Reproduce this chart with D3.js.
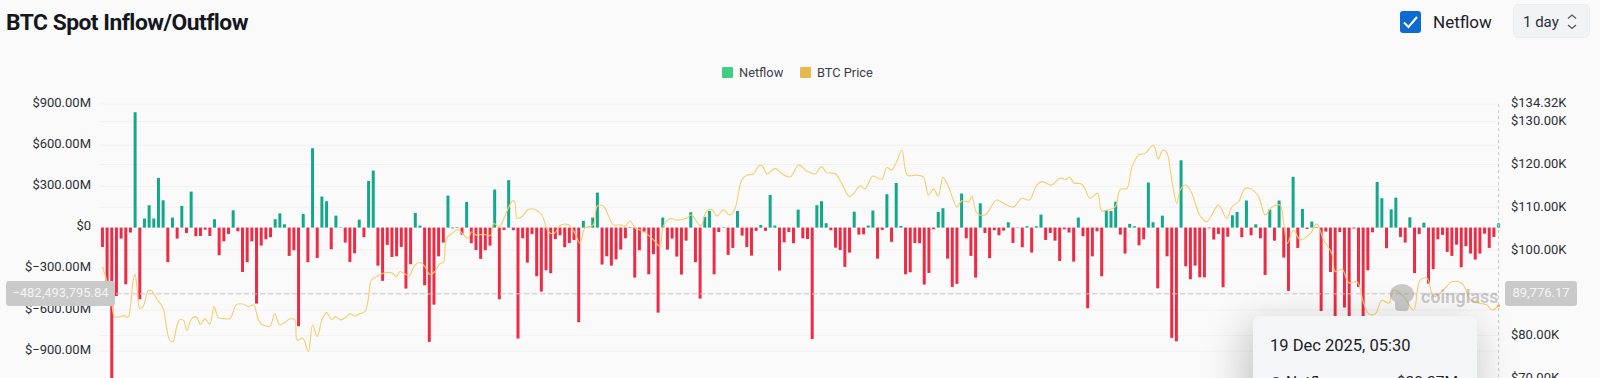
<!DOCTYPE html>
<html>
<head>
<meta charset="utf-8">
<script src="https://cdn.jsdelivr.net/npm/d3@7"></script>
<style>
  html, body { margin: 0; padding: 0; background: #fafafa; overflow: hidden; }
  #chart { width: 1600px; height: 378px; }
  text { font-family: Roboto, sans-serif; }
</style>
</head>
<body>
<div id="chart"></div>
<script>
// netflow per day, $M
const netflow = [
  -141,-396,-1180,-498,-80,-413,-36,840,-522,66,163,66,362,199,-252,73,-80,158,-39,262,
  -63,-61,-15,-61,61,-201,-100,-46,126,-27,-323,-252,-100,-553,-131,-85,-70,61,104,24,
  -206,-165,-718,100,-252,578,-221,226,192,-158,87,3,-109,-250,-187,58,-70,340,415,-277,
  -388,-126,-214,-209,-141,-444,-267,107,15,-420,-832,-561,-209,-109,233,-5,4,-51,187,-114,
  -163,-228,-165,-131,277,-522,-17,345,-19,-808,-78,-255,-46,-354,-466,-311,-332,-83,-56,-143,
  -112,-90,-689,49,2,73,255,-269,-209,-277,-231,-160,-78,-3,-364,-165,-30,-340,-194,-619,
  73,-160,-80,-211,-342,-95,112,-252,-517,78,121,-340,-32,3,-199,-148,121,-58,-141,-204,
  -24,19,-24,238,15,-313,-107,-32,-114,131,-78,-83,-811,163,192,32,-19,-146,-163,-286,
  -182,116,-51,-49,15,124,-226,-17,243,-104,325,12,-340,-325,-112,-114,-415,-330,-12,114,
  141,-226,-432,-410,248,-78,-206,-364,177,-39,-223,-19,-56,-22,39,-112,-2,-143,10,-182,
  10,95,-90,-39,-95,-243,-12,-36,-248,73,-63,-587,-209,-27,-354,129,121,189,-51,-189,
  27,10,-129,-85,328,39,-442,87,-209,-803,-828,490,-282,-376,-277,-362,-362,-5,-87,-46,
  -434,-66,90,114,-70,197,-56,24,-78,-345,131,-95,197,-218,-461,369,-148,136,-10,44,
  -3,-607,-29,-323,-800,-32,-582,-800,-7,-432,-750,-311,-34,332,214,-150,133,218,-68,-109,
  75,-332,-46,36,-408,-303,-85,-53,-177,-206,-124,-289,-135,-189,-233,-189,-44,-148,-68,24
];

// BTC price in $K, sampled along the line; priceAt is the day position of each reading
const priceAt = [
  0,1,2,2.6,3.6,4.6,5.5,6,6.6,7,7.4,8,8.7,9.8,10.5,11.6,13,13.7,14.4,15.1,15.9,16.6,17.4,18.1,19.1,20.1,21,21.9,23,23.9,24.8,26,27.3,28.7,30.1,31.2,32.4,33.4,34.4,35.9,36.9,37.9,39.1,40.1,41.2,41.7,42.9,44.1,45,46,47,48,49.1,50,51,52.3,53,54.1,55.1,56.2,56.9,57.6,58.7,60.1,61.9,63,
  63.7,64.8,65.7,66.9,68,69.1,70.1,71.2,72.3,73,73.7,75.1,76.2,77.1,78.3,79.1,80.1,81.6,83.1,83.8,85,86.6,87.8,88.3,88.8,89.8,91.2,92.6,94.1,95.5,96.6,98.3,99.8,101.2,102.3,103.3,105.1,106,107.3,108.3,109.4,110.8,111.9,113,114.1,115.1,116.6,118,119.4,120.1,121.6,123,124.8,126.2,127.3,128.2,129.3,130.5,131.6,133,134.4,135.5,136.9,138,139.4,140.7,141.4,142.3,144.1,145.5,147.3,149.1,
  150.8,152.6,154,155.1,156.9,158.3,160,160.8,162.3,163.3,165,166.9,168,169,170.1,171.2,172.4,174.4,175.8,176.9,178,179,180,181.2,183,184,185.5,186.2,187.3,189,191.5,193,195.1,196.9,198.5,200.1,201.2,203.3,205,206.2,207.1,208.1,209.8,211.5,213.1,214,215.5,216.9,218,219.4,220.5,221.9,223.3,225.1,226.1,227.1,228,229,230.1,230.8,231.9,233,235,
  236.5,239,240.8,241.9,243.3,244.7,245.8,247.6,249,250.5,252.2,253,253.8,255.1,256.5,258.7,260.1,261.5,263.3,264,265.5,266.9,268.7,270.1,271.2,272.6,274,275.5,276.5,278.7,280.8,282.2,283.7,285.1,287.2,289,291.2,293,294.8,296.5,297.6,299
];
const priceK = [
  96.1,92.6,87.6,84.4,84.4,84.7,84.3,86.8,93,94.3,91.4,86.4,86.8,90.5,90.5,88.7,86.4,82.1,79,78.6,82.1,83.8,83.5,81.2,84,84.4,82.6,84,82.7,86.8,84.3,84,84,87.2,87.4,86.8,87.2,83.7,82.5,82.3,85.2,82.6,83.1,83.9,83.7,79,79.4,76.3,82.5,79.8,83.7,85.4,83.8,84.4,83.7,84.4,85.1,84.6,85.1,85.6,88.3,93,93.8,94.6,94.7,93.8,
  95,94.4,94,96.5,97.1,96.1,94.3,95,96.9,97.1,102.7,104.1,104.8,103.9,102.7,104.3,103.5,103.7,103.4,106.2,105.5,109,111.5,111.3,107.4,107.8,109.5,109.5,108.2,104.3,103.8,105.9,105.9,103.9,101.6,105.1,105.9,110.3,110.3,108.2,105.9,105.9,105.6,106.8,105.1,104.7,103.8,102.4,100.9,105.5,107.4,107,107.3,108.2,106.6,105.6,109,109.5,108,109.4,108.2,109.8,116.4,117.5,117.8,119.8,119.6,117.8,119.1,117.9,117.1,119.9,
  118.5,117.8,119.5,118.1,117.9,115.6,112.5,113.1,115,114.3,117.3,116.5,119.3,118.7,120.7,123.4,117.5,117.5,117.1,112.9,114.3,112.6,117,114.8,110.1,111.5,111.3,112.5,108.6,108.2,111.7,110.9,110.1,112.1,111.7,115.2,116,115.2,116.8,116.5,117,115.7,115.4,112.1,113.3,109.2,109.4,110.1,114.2,114.4,119.5,122.2,122.6,124.5,121.3,123.4,122.6,116.4,110.9,114,115.2,114,108.2,
  106.6,110.5,107.4,110.1,111.3,114.4,114.4,112.5,108.2,110.1,110.5,106.2,101.6,104.7,102.4,103.9,106.1,102.4,99.2,95,95.5,92.4,92.6,87.6,85.1,85.1,88.3,87.6,90.7,89.1,86,93,93.4,89.1,90.7,92.6,92.2,88.3,87.6,87.2,86,87
];

const leftTicks = [900, 600, 300, 0, -300, -600, -900];
const rightTicks = [134.32, 130, 120, 110, 100, 90, 80, 70];
const rightLabelled = [134.32, 130, 120, 110, 100, 80, 70];
const hoverFlow = -482493795.84;
const hoverPrice = 89776.17;
const legendItems = ['Netflow', 'BTC Price'];

const width = 1600;
const height = 378;
const plot = { left: 100, right: 1501 };

const svg = d3.select('#chart').append('svg')
  .attr('width', width)
  .attr('height', height)
  .attr('viewBox', [0, 0, width, height]);

const x = d3.scaleBand()
  .domain(d3.range(netflow.length))
  .range([plot.left, plot.right])
  .paddingInner(0.36)
  .paddingOuter(0.2);

const xLine = d3.scaleLinear()
  .domain([0, netflow.length - 1])
  .range([x(0) + x.bandwidth() / 2, x(netflow.length - 1) + x.bandwidth() / 2]);

// both axes keep going below the crop, the window just cuts them off
const yFlow = d3.scaleLinear().domain([900, -1200]).range([104, 392.4]);
const yPrice = d3.scaleLinear().domain([130, 60]).range([121.7, 421.3]);

// grid
svg.append('g').selectAll('line')
  .data(leftTicks)
  .join('line')
    .attr('x1', plot.left).attr('x2', plot.right - 2)
    .attr('y1', d => yFlow(d)).attr('y2', d => yFlow(d))
    .attr('stroke', '#f1f1f2');
svg.append('g').selectAll('line')
  .data(rightTicks.filter(d => d <= 130))
  .join('line')
    .attr('x1', plot.left).attr('x2', plot.right - 2)
    .attr('y1', d => yPrice(d)).attr('y2', d => yPrice(d))
    .attr('stroke', '#f1f1f2');

// bars
svg.append('g').selectAll('rect')
  .data(netflow)
  .join('rect')
    .attr('x', (d, i) => x(i))
    .attr('y', d => yFlow(Math.max(d, 0)))
    .attr('width', x.bandwidth())
    .attr('height', d => Math.abs(yFlow(d) - yFlow(0)))
    .attr('fill', d => d >= 0 ? '#14a88a' : '#ee2b45');

// price line
const priceLine = d3.line()
  .x(d => xLine(d[0]))
  .y(d => yPrice(d[1]))
  .curve(d3.curveCatmullRom.alpha(0.5));

svg.append('path')
  .attr('d', priceLine(d3.zip(priceAt, priceK)))
  .attr('fill', 'none')
  .attr('stroke', '#f6cd6e')
  .attr('stroke-width', 1.1);

// last point markers
svg.append('circle')
  .attr('cx', xLine(299)).attr('cy', yPrice(priceK[priceK.length - 1]))
  .attr('r', 1.6).attr('fill', '#eab94a');
svg.append('circle')
  .attr('cx', xLine(299)).attr('cy', yFlow(netflow[299]))
  .attr('r', 1.6).attr('fill', '#36c7a0');

// crosshair
svg.append('line')
  .attr('x1', plot.left).attr('x2', xLine(299))
  .attr('y1', yFlow(hoverFlow / 1e6)).attr('y2', yFlow(hoverFlow / 1e6))
  .attr('stroke', '#c8c8c8').attr('stroke-dasharray', '5 3');
svg.append('line')
  .attr('x1', xLine(299)).attr('x2', xLine(299))
  .attr('y1', 104).attr('y2', height)
  .attr('stroke', '#c8c8c8').attr('stroke-dasharray', '3 3');

// left axis
svg.append('g').selectAll('text')
  .data(leftTicks)
  .join('text')
    .attr('x', 91)
    .attr('y', d => yFlow(d))
    .attr('dy', '-0.07em')
    .attr('dominant-baseline', 'middle')
    .attr('text-anchor', 'end')
    .attr('font-size', 13)
    .attr('fill', '#2b2f36')
    .text(d => d === 0 ? '$0' : `$${d3.format('.2f')(d)}M`);

// right axis
svg.append('g').selectAll('text')
  .data(rightLabelled)
  .join('text')
    .attr('x', 1511)
    .attr('y', d => yPrice(d))
    .attr('dominant-baseline', 'middle')
    .attr('font-size', 13)
    .attr('fill', '#2b2f36')
    .text(d => `$${d3.format('.2f')(d)}K`);

// watermark
const mark = svg.append('g').attr('fill', '#8f8f8f').attr('opacity', 0.45);
mark.append('ellipse').attr('cx', 1402).attr('cy', 294).attr('rx', 12).attr('ry', 10);
mark.append('rect').attr('x', 1395).attr('y', 297).attr('width', 14).attr('height', 14).attr('rx', 4);
mark.append('text')
  .attr('x', 1421).attr('y', 303)
  .attr('font-family', 'Inter, sans-serif').attr('font-size', 18).attr('font-weight', 700)
  .text('coinglass');

// crosshair badges
const leftBadge = svg.append('g');
leftBadge.append('rect')
  .attr('x', 6).attr('y', 281).attr('width', 109).attr('height', 25).attr('rx', 3)
  .attr('fill', '#c9c9c9');
leftBadge.append('text')
  .attr('x', 60.5).attr('y', 293.5)
  .attr('text-anchor', 'middle').attr('dominant-baseline', 'middle')
  .attr('font-size', 13).attr('fill', '#f4f4f4')
  .text(d3.format(',.2f')(hoverFlow));
const rightBadge = svg.append('g');
rightBadge.append('rect')
  .attr('x', 1505).attr('y', 281).attr('width', 72).attr('height', 25).attr('rx', 3)
  .attr('fill', '#c9c9c9');
rightBadge.append('text')
  .attr('x', 1541).attr('y', 293.5)
  .attr('text-anchor', 'middle').attr('dominant-baseline', 'middle')
  .attr('font-size', 13).attr('fill', '#f4f4f4')
  .text(d3.format(',.2f')(hoverPrice));

// title
svg.append('text')
  .attr('x', 6).attr('y', 30)
  .attr('font-family', 'Inter, sans-serif').attr('font-size', 22.8).attr('font-weight', 700)
  .attr('letter-spacing', '-0.5').attr('fill', '#14171c')
  .text('BTC Spot Inflow/Outflow');

// checkbox + interval select
svg.append('rect')
  .attr('x', 1400).attr('y', 11).attr('width', 21).attr('height', 22).attr('rx', 3)
  .attr('fill', '#0f6bd0');
svg.append('path')
  .attr('d', 'M1404 22.5 L1408.5 27 L1417 17')
  .attr('fill', 'none').attr('stroke', '#fff').attr('stroke-width', 2);
svg.append('text')
  .attr('x', 1433).attr('y', 28)
  .attr('font-family', '"Open Sans", sans-serif').attr('font-size', 17).attr('fill', '#1d2026')
  .text('Netflow');
svg.append('rect')
  .attr('x', 1513.5).attr('y', 4.5).attr('width', 76).attr('height', 33).attr('rx', 5)
  .attr('fill', '#f2f3f5').attr('stroke', '#ececee');
svg.append('text')
  .attr('x', 1523).attr('y', 27)
  .attr('font-family', '"Open Sans", sans-serif').attr('font-size', 15).attr('fill', '#2b2f36')
  .text('1 day');
svg.append('path')
  .attr('d', 'M1568 18.5 L1572 15 L1576 18.5 M1568 25 L1572 28.5 L1576 25')
  .attr('fill', 'none').attr('stroke', '#555').attr('stroke-width', 1.2);

// legend
const legendX = [722, 800];
const legendColors = ['#3ecf85', '#e8b84b'];
const legend = svg.append('g').selectAll('g')
  .data(legendItems)
  .join('g')
    .attr('transform', (d, i) => `translate(${legendX[i]},67)`);
legend.append('rect')
  .attr('width', 11).attr('height', 11).attr('rx', 1)
  .attr('fill', (d, i) => legendColors[i]);
legend.append('text')
  .attr('x', 17).attr('y', 10)
  .attr('font-family', '"Open Sans", sans-serif').attr('font-size', 12.8).attr('fill', '#3b3f46')
  .text(d => d);

// tooltip, hanging off the bottom of the window
const defs = svg.append('defs');
const blur = defs.append('filter').attr('id', 'tipShadow')
  .attr('x', '-40%').attr('y', '-40%').attr('width', '180%').attr('height', '180%');
blur.append('feGaussianBlur').attr('stdDeviation', 20);
svg.append('rect')
  .attr('x', 1243).attr('y', 324).attr('width', 234).attr('height', 110).attr('rx', 8)
  .attr('fill', '#000').attr('opacity', 0.2).attr('filter', 'url(#tipShadow)');
svg.append('rect')
  .attr('x', 1253).attr('y', 316).attr('width', 224).attr('height', 110).attr('rx', 6)
  .attr('fill', '#f4f5f7');
svg.append('text')
  .attr('x', 1270).attr('y', 351)
  .attr('font-family', 'Roboto, sans-serif').attr('font-size', 16.5).attr('fill', '#1d2026')
  .text('19 Dec 2025, 05:30');
svg.append('circle').attr('cx', 1276).attr('cy', 382).attr('r', 5).attr('fill', '#3a3f47');
svg.append('text')
  .attr('x', 1286).attr('y', 387)
  .attr('font-size', 15.5).attr('fill', '#1d2026')
  .text('Netflow');
svg.append('text')
  .attr('x', 1458).attr('y', 387).attr('text-anchor', 'end')
  .attr('font-size', 15.5).attr('fill', '#1d2026')
  .text('$20.27M');
</script>
</body>
</html>
